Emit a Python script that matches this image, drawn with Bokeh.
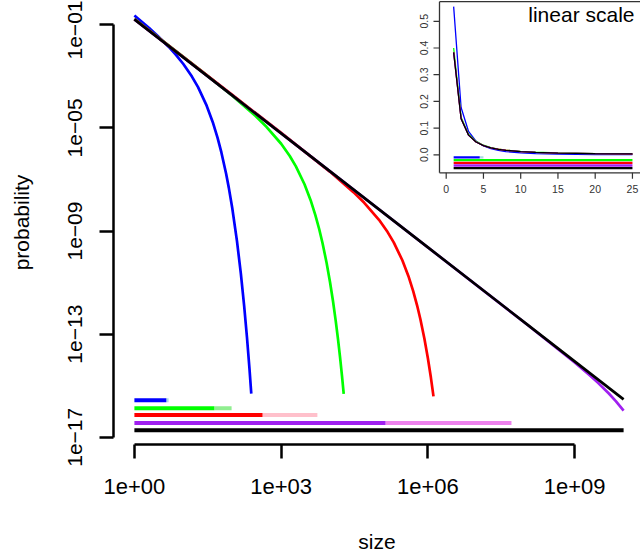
import numpy as np
from bokeh.plotting import figure
from bokeh.models import Range1d, LinearScale, FixedTicker, CustomJSTickFormatter
from bokeh.core.properties import value
from bokeh.embed import file_html
from bokeh.resources import INLINE

FONT = "Liberation Sans"

# ---------------- data ----------------
series_colors = ["#0000FF", "#00FF00", "#FF0000", "#A020F0", "#000000"]
light_colors = ["#ADD8E6", "#90EE90", "#FFC0CB", "#EE82EE", "#000000"]

blue_size = [1, 2, 3, 5, 7, 10, 15, 20, 30, 40, 50, 60, 75, 85, 100, 125, 150, 175, 200, 225, 245]
blue_log10p = [-0.640, -1.127, -1.432, -1.850, -2.156, -2.521, -3.009, -3.420, -4.137, -4.778,
               -5.378, -5.951, -6.779, -7.316, -8.106, -9.392, -10.651, -11.892, -13.12, -14.338, -15.31]

green_size = [1, 10, 30, 100, 300, 500, 1000, 1500, 2000, 3000, 4000, 5000, 6000, 7000, 8500,
              10000, 11500, 13000, 14500, 16000, 17500, 19000]
green_log10p = [-0.770, -2.244, -2.954, -3.753, -4.541, -4.955, -5.614, -6.090, -6.491, -7.184, -7.802,
                -8.380, -8.930, -9.462, -10.238, -10.993, -11.734, -12.464, -13.184, -13.899, -14.607, -15.312]

red_size = [1, 1e2, 1e3, 1e4, 3e4, 5e4, 1e5, 1.5e5, 2e5, 3e5, 4e5, 5e5, 6e5, 7e5, 8.5e5, 1e6, 1.15e6, 1.3e6]
red_log10p = [-0.780, -3.720, -5.194, -6.703, -7.491, -7.905, -8.564, -9.040, -9.441, -10.134, -10.752,
              -11.330, -11.880, -12.412, -13.188, -13.943, -14.684, -15.414]

purple_size = [1, 1e4, 1e8, 1e9, 2e9, 3e9, 5e9, 7e9, 1e10]
purple_log10p = [-0.790, -6.686, -12.586, -14.099, -14.587, -14.889, -15.303, -15.606, -15.964]

black_size = [1, 1e2, 1e4, 1e6, 1e8, 1e10]
black_log10p = [-0.79, -3.738, -6.686, -9.634, -12.582, -15.53]

# range bars at the bottom of the main panel
bar_level = [2.75e-16, 1.35e-16, 7.24e-17, 3.55e-17, 1.86e-17]
bar_start = [1, 1, 1, 1, 1]
bar_mid = [4.5, 43, 416, 1.36e5, 1e10]
bar_end = [5.0, 97, 5500, 5.1e7, 1e10]

# inset (linear scale)
inset_k = [1, 2, 3, 4, 5, 6, 7, 8, 10, 12, 15, 20, 25]
inset_blue = [0.555, 0.177, 0.0874, 0.0514, 0.0332, 0.0229, 0.0164, 0.0122, 0.0071, 0.0045, 0.0024, 0.0009, 0.0004]
inset_green = [0.400, 0.141, 0.0770, 0.0500, 0.0358, 0.0272, 0.0216, 0.0176, 0.0126, 0.0096, 0.0068, 0.0044, 0.0031]
inset_red = [0.385, 0.136, 0.0740, 0.0481, 0.0344, 0.0262, 0.0208, 0.0170, 0.0121, 0.0092, 0.0066, 0.0043, 0.0030]
inset_purple = [0.383, 0.135, 0.0737, 0.0479, 0.0343, 0.0261, 0.0207, 0.0169, 0.0121, 0.0092, 0.0066, 0.0043, 0.0031]
inset_black = [0.383, 0.135, 0.0737, 0.0479, 0.0343, 0.0261, 0.0207, 0.0169, 0.0121, 0.0092, 0.0066, 0.0043, 0.0031]
inset_bar_level = [-0.01, -0.02, -0.03, -0.04, -0.05]
inset_x_ticks = [0, 5, 10, 15, 20, 25]
inset_x_labels = ["0", "5", "10", "15", "20", "25"]
inset_y_ticks = [0.0, 0.1, 0.2, 0.3, 0.4, 0.5]
inset_y_labels = ["0.0", "0.1", "0.2", "0.3", "0.4", "0.5"]

x_ticks = [1, 1e3, 1e6, 1e9]
x_tick_labels = ["1e+00", "1e+03", "1e+06", "1e+09"]
y_ticks = [1e-1, 1e-5, 1e-9, 1e-13, 1e-17]
y_tick_labels = ["1e\u221201", "1e\u221205", "1e\u221209", "1e\u221213", "1e\u221217"]

# ---------------- layout (canvas pixels) ----------------
W, H = 640, 558
FL, FR, FT, FB = 113, 640, 0, 444            # frame edges
PX0, PXD = 133.9, 48.92                      # x of size 1, px per decade
PY0, PYD = 24.3, 25.78                       # y of 1e-1, px per decade
IX0, IXD = 445.7, 7.45                       # inset: x of 0, px per unit
IY0, IYD = 154.3, 267.0                      # inset: y of 0, px per unit

def ix(px):
    return (px - IX0) / IXD

def iy(py):
    return (IY0 - py) / IYD

x_range = Range1d(10 ** ((FL - PX0) / PXD), 10 ** ((FR - PX0) / PXD))
y_range = Range1d(10 ** (-1 - (FB - PY0) / PYD), 10 ** (-1 - (FT - PY0) / PYD))

p = figure(width=W, height=H, x_axis_type="log", y_axis_type="log",
           x_range=x_range, y_range=y_range, output_backend="svg",
           toolbar_location=None, title=None,
           min_border_left=FL, min_border_right=W - FR,
           min_border_top=FT, min_border_bottom=H - FB)
p.outline_line_color = None
p.xgrid.visible = False
p.ygrid.visible = False
p.background_fill_color = "white"
p.border_fill_color = "white"

fmt_code = """
let best = 0, bd = Infinity;
for (let i = 0; i < tvals.length; i++) {
  const d = Math.abs(Math.log10(tick) - Math.log10(tvals[i]));
  if (d < bd) { bd = d; best = i; }
}
return tlabels[best];
"""
for ax, ticks, labels, bounds in ((p.xaxis[0], x_ticks, x_tick_labels, (1, 1e9)),
                                  (p.yaxis[0], y_ticks, y_tick_labels, (1e-17, 1e-1))):
    ax.ticker = FixedTicker(ticks=ticks, minor_ticks=[])
    ax.formatter = CustomJSTickFormatter(args=dict(tvals=ticks, tlabels=labels), code=fmt_code)
    ax.bounds = bounds
    ax.axis_line_width = 2.5
    ax.major_tick_line_width = 2.5
    ax.major_tick_out = 14
    ax.major_tick_in = 0
    ax.minor_tick_out = 0
    ax.minor_tick_in = 0
    ax.major_label_text_font = FONT
    ax.major_label_text_color = "black"
    ax.axis_label_text_font = FONT
    ax.axis_label_text_font_size = "21px"
    ax.axis_label_text_font_style = "normal"
    ax.axis_label_text_color = "black"
p.xaxis[0].major_label_text_font_size = "22px"
p.yaxis[0].major_label_text_font_size = "21px"
p.yaxis[0].major_label_orientation = "vertical"
p.yaxis[0].major_label_standoff = 17
p.xaxis[0].major_label_standoff = 20
p.xaxis[0].axis_label = "size"
p.yaxis[0].axis_label = "probability"
p.xaxis[0].axis_label_standoff = 33
p.yaxis[0].axis_label_standoff = 33

# main curves
main_series = [(blue_size, blue_log10p), (green_size, green_log10p), (red_size, red_log10p),
               (purple_size, purple_log10p), (black_size, black_log10p)]
for (xs, lp), col in zip(main_series, series_colors):
    p.line(xs, 10 ** np.array(lp), line_color=col, line_width=2.7)

# bars
for i in range(5):
    if bar_end[i] > bar_mid[i]:
        p.segment(bar_mid[i], bar_level[i], bar_end[i], bar_level[i],
                  line_color=light_colors[i], line_width=4, line_cap="butt")
    p.segment(bar_start[i], bar_level[i], bar_mid[i], bar_level[i],
              line_color=series_colors[i], line_width=4, line_cap="butt")

# ---------------- inset ----------------
p.extra_x_ranges["ix"] = Range1d(ix(FL), ix(FR))
p.extra_y_ranges["iy"] = Range1d(iy(FB), iy(FT))
p.extra_x_scales["ix"] = LinearScale()
p.extra_y_scales["iy"] = LinearScale()
R = dict(x_range_name="ix", y_range_name="iy")

left_k = ix(439)
bottom_v = iy(172.3)
top_v = iy(1.2)
p.segment(left_k, bottom_v, left_k, top_v, line_color="#333333", line_width=1.3, **R)
p.segment(left_k, bottom_v, 40, bottom_v, line_color="#333333", line_width=1.3, **R)
p.segment(left_k, top_v, 40, top_v, line_color="#333333", line_width=1.3, **R)

# ticks
p.segment(x0=[left_k] * 6, y0=inset_y_ticks, x1=[left_k - 6 / IXD] * 6, y1=inset_y_ticks,
          line_color="#333333", line_width=1.2, **R)
p.segment(x0=inset_x_ticks, y0=[bottom_v] * 6, x1=inset_x_ticks, y1=[bottom_v - 6 / IYD] * 6,
          line_color="#333333", line_width=1.2, **R)
p.text(x=[ix(423.0)] * 6, y=inset_y_ticks, text=inset_y_labels, angle=np.pi / 2,
       text_align="center", text_baseline="middle", text_font=value(FONT),
       text_font_size="10.5px", text_color="#333333", **R)
p.text(x=inset_x_ticks, y=[iy(188.7)] * 6, text=inset_x_labels,
       text_align="center", text_baseline="middle", text_font=value(FONT),
       text_font_size="10.5px", text_color="#333333", **R)
p.text(x=[ix(634)], y=[iy(14)], text=["linear scale"], text_align="right",
       text_baseline="middle", text_font=value(FONT), text_font_size="21px",
       text_color="black", **R)

inset_series = [inset_blue, inset_green, inset_red, inset_purple, inset_black]
for ys, col in zip(inset_series, series_colors):
    p.line(inset_k, ys, line_color=col, line_width=1.3, **R)

kmax = inset_x_ticks[-1]
for i in range(5):
    mid = min(bar_mid[i], kmax)
    end = min(bar_end[i], kmax)
    if end > mid:
        p.segment(mid, inset_bar_level[i], end, inset_bar_level[i],
                  line_color=light_colors[i], line_width=2.3, line_cap="butt", **R)
    p.segment(bar_start[i], inset_bar_level[i], mid, inset_bar_level[i],
              line_color=series_colors[i], line_width=2.3, line_cap="butt", **R)

open("out.html", "w").write(file_html(p, INLINE))
